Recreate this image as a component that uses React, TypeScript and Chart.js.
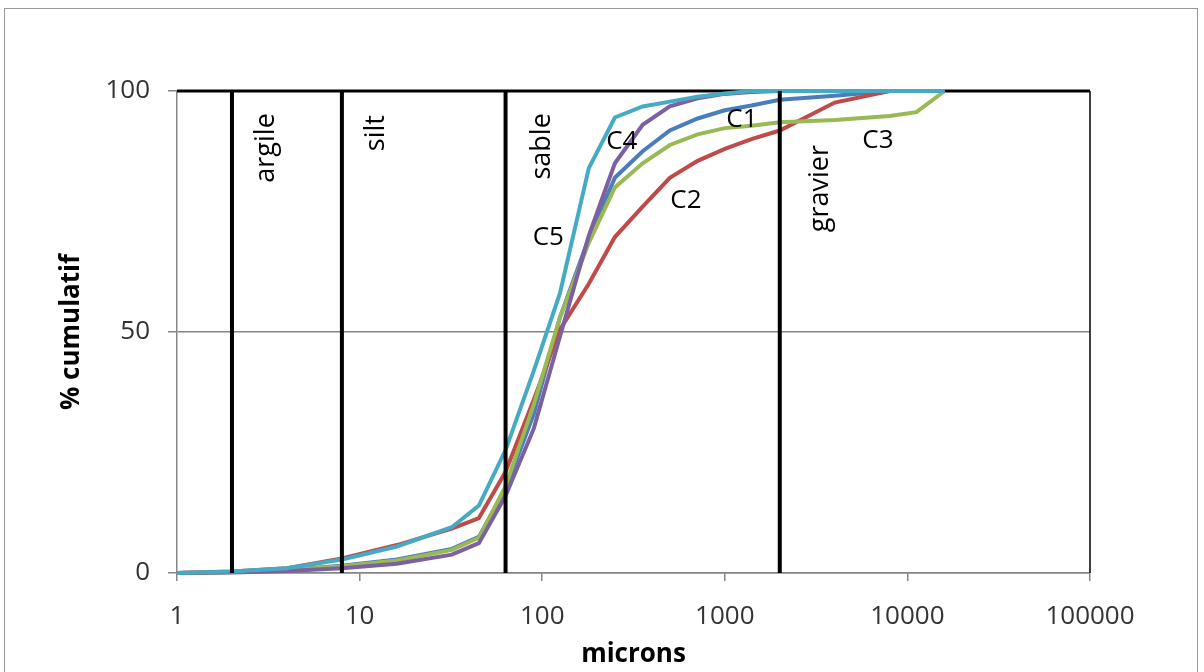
import React, { useEffect, useRef } from "react";
import { Chart, registerables } from "chart.js";

Chart.register(...registerables);

// ---- data ----
const sizes = [1, 2, 4, 8, 16, 32, 45, 63, 90, 125, 180, 250, 355, 500, 710, 1000, 1400, 2000, 4000, 8000, 11200, 16000];
const c1 = [0, 0.2, 0.6, 1.5, 2.8, 5.0, 7.5, 17.5, 33, 53, 69.5, 82, 87.5, 91.8, 94.3, 96, 97, 98.2, 99, 100, 100, 100];
const c2 = [0, 0.3, 1.0, 3.0, 5.8, 9.2, 11.4, 21, 36, 50.5, 60, 69.7, 76, 82, 85.5, 88, 90, 91.8, 97.6, 100, 100, 100];
const c3 = [0, 0.2, 0.6, 1.4, 2.6, 4.8, 7.3, 18, 35, 53, 68.5, 80, 85, 88.8, 91, 92.3, 92.8, 93.5, 94, 94.8, 95.6, 100];
const c4 = [0, 0.1, 0.4, 1.0, 1.9, 3.8, 6.2, 16, 30, 49, 70, 85, 93, 96.8, 98.5, 99.4, 99.8, 100, 100, 100, 100, 100];
const c5 = [0, 0.3, 1.0, 2.8, 5.5, 9.5, 14, 25.5, 42, 58, 84, 94.5, 96.8, 97.8, 98.8, 99.5, 100, 100, 100, 100, 100, 100];
const seriesValues = [c1, c2, c3, c4, c5];
const seriesNames = ["C1", "C2", "C3", "C4", "C5"];
const seriesColors = ["#4A7EBB", "#BE4B48", "#98B954", "#7D60A0", "#46AAC5"];

const boundaries = [2, 8, 63, 2000];
const boundaryNames = ["argile", "silt", "sable", "gravier"];
const boundaryRange = [0, 100];

const xTickValues = [1, 10, 100, 1000, 10000, 100000];
const yTickValues = [0, 50, 100];

// label anchor positions (data units)
const boundaryLabelX = [3.07, 12.3, 100, 3330];
const boundaryLabelTop = [95.4, 95, 95.4, 88.8];
const seriesLabelX = [1242, 613, 6900, 273, 108];
const seriesLabelY = [94, 77.2, 89.8, 89.4, 69.5];

const FONT = '"Open Sans", "Noto Sans", sans-serif';

const framePlugin = {
  id: "frame",
  beforeDatasetsDraw(chart: any) {
    const { ctx, chartArea } = chart;
    ctx.save();
    ctx.strokeStyle = "#000";
    ctx.lineWidth = 3;
    ctx.beginPath();
    ctx.moveTo(chartArea.left, chartArea.top);
    ctx.lineTo(chartArea.right, chartArea.top);
    ctx.stroke();
    ctx.lineWidth = 1.5;
    ctx.beginPath();
    ctx.moveTo(chartArea.right, chartArea.top);
    ctx.lineTo(chartArea.right, chartArea.bottom);
    ctx.stroke();
    ctx.restore();
  },
  afterDatasetsDraw(chart: any) {
    const { ctx, scales } = chart;
    ctx.save();
    ctx.fillStyle = "#000";
    ctx.font = `27px ${FONT}`;
    boundaryNames.forEach((name, i) => {
      const px = scales.x.getPixelForValue(boundaryLabelX[i]);
      const py = scales.y.getPixelForValue(boundaryLabelTop[i]);
      ctx.save();
      ctx.translate(px, py);
      ctx.rotate(-Math.PI / 2);
      ctx.textAlign = "right";
      ctx.textBaseline = "middle";
      ctx.fillText(name, 0, 0);
      ctx.restore();
    });
    ctx.font = `26px ${FONT}`;
    ctx.textAlign = "center";
    ctx.textBaseline = "middle";
    seriesNames.forEach((name, i) => {
      const px = scales.x.getPixelForValue(seriesLabelX[i]);
      const py = scales.y.getPixelForValue(seriesLabelY[i]);
      ctx.fillText(name, px, py);
    });
    ctx.restore();
  },
};

export default function App() {
  const canvasRef = useRef<HTMLCanvasElement | null>(null);

  useEffect(() => {
    const canvas = canvasRef.current;
    if (!canvas) return;

    const curveSets = seriesNames.map((name, i) => ({
      label: name,
      data: sizes.map((s, j) => ({ x: s, y: seriesValues[i][j] })),
      borderColor: seriesColors[i],
      backgroundColor: seriesColors[i],
      borderWidth: 4,
      pointRadius: 0,
      tension: 0,
      fill: false,
      clip: false as any,
      order: 6 - i,
    }));
    const boundarySets = boundaries.map((b, i) => ({
      label: boundaryNames[i],
      data: boundaryRange.map((v) => ({ x: b, y: v })),
      borderColor: "#000",
      backgroundColor: "#000",
      borderWidth: 4,
      pointRadius: 0,
      fill: false,
      clip: false as any,
      order: 0,
    }));

    const chart = new Chart(canvas, {
      type: "line",
      data: { datasets: [...curveSets, ...boundarySets] as any },
      options: {
        responsive: false,
        animation: false,
        events: [],
        layout: { padding: { left: 40, right: 114, top: 91, bottom: 0 } },
        plugins: {
          legend: { display: false },
          tooltip: { enabled: false },
        },
        scales: {
          x: {
            type: "logarithmic",
            min: 1,
            max: 100000,
            afterBuildTicks: (scale: any) => {
              scale.ticks = xTickValues.map((v) => ({ value: v }));
            },
            afterFit: (scale: any) => {
              scale.height = 99;
            },
            grid: {
              drawOnChartArea: false,
              drawTicks: true,
              tickLength: 8,
              color: "#868686",
              lineWidth: 1.5,
            },
            border: { display: true, color: "#868686", width: 1.5 },
            ticks: {
              autoSkip: false,
              maxRotation: 0,
              padding: 20,
              color: "#333",
              font: { family: FONT, size: 26 },
              callback: (v: any) => String(v),
            },
            title: {
              display: true,
              text: "microns",
              color: "#000",
              font: { family: FONT, size: 26, weight: "bold" },
              padding: { top: 0, bottom: 1.5 },
            },
          },
          y: {
            type: "linear",
            min: 0,
            max: 100,
            afterBuildTicks: (scale: any) => {
              scale.ticks = yTickValues.map((v) => ({ value: v }));
            },
            afterFit: (scale: any) => {
              scale.width = 137;
            },
            grid: {
              drawOnChartArea: true,
              drawTicks: true,
              tickLength: 9,
              color: "#868686",
              lineWidth: 1.5,
            },
            border: { display: true, color: "#868686", width: 1.5 },
            ticks: {
              padding: 18,
              color: "#333",
              font: { family: FONT, size: 26 },
              callback: (v: any) => String(v),
            },
            title: {
              display: true,
              text: "% cumulatif",
              color: "#000",
              font: { family: FONT, size: 26, weight: "bold" },
              padding: { top: 16, bottom: 0 },
            },
          },
        },
      },
      plugins: [framePlugin],
    });

    return () => chart.destroy();
  }, []);

  return (
    <div
      style={{
        position: "absolute",
        left: 0,
        top: 0,
        width: 1204,
        height: 672,
        background: "#fff",
        overflow: "hidden",
      }}
    >
      <div
        style={{
          position: "absolute",
          left: 4,
          top: 8,
          width: 1194,
          height: 700,
          border: "1.5px solid #9a9a9a",
          boxSizing: "border-box",
        }}
      />
      <canvas
        ref={canvasRef}
        width={1204}
        height={672}
        style={{ position: "absolute", left: 0, top: 0 }}
      />
    </div>
  );
}
